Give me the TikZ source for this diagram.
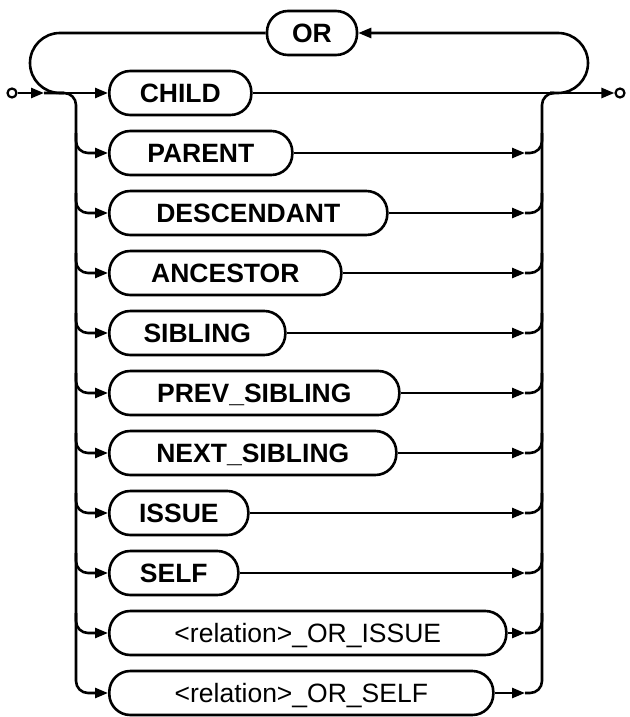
\documentclass[tikz,border=0pt]{standalone}
\usepackage{fontspec}
\setmainfont{Liberation Sans}
\usetikzlibrary{arrows.meta, positioning}
\newcommand{\railfont}{\fontsize{26.5}{30}\selectfont}
\tikzset{
  rail/.style={line width=2.6pt, line join=round},
  tip/.style={-{Triangle[length=13pt,width=10pt]}},
  tipstart/.style={{Triangle[length=13pt,width=10pt]}-},
  relbox/.style={draw, line width=2.6pt, rounded corners=21pt, minimum height=44pt,
    inner sep=0pt, text height=19pt, text depth=0pt, anchor=west, font=\railfont\bfseries},
  endpoint/.style={draw, circle, line width=2.2pt, minimum size=9pt, inner sep=0pt}
}

\begin{document}
\begin{tikzpicture}[x=1pt,y=-1pt]
  \useasboundingbox (0,0) rectangle (629,717);

  % Rail points
  \coordinate (split) at (44,93);
  \coordinate (lmerge) at (64,93);
  \coordinate (lrail) at (76,93);
  \coordinate (lloop) at (30,33);
  \coordinate (rtip) at (525,93);
  \coordinate (rrail) at (542,93);
  \coordinate (rmerge) at (550,93);
  \coordinate (rloop) at (588,33);

  % OR box on top
  \node[relbox, minimum width=90pt, anchor=center] (orbox) at (312,33) {OR};

  % Relation boxes
  \node[relbox, minimum width=142pt] (child) at (108,93) {CHILD};
  \node[relbox, minimum width=183pt] (parent) at (108,153) {PARENT};
  \node[relbox, minimum width=278pt] (descendant) at (108,213) {DESCENDANT};
  \node[relbox, minimum width=232pt] (ancestor) at (108,273) {ANCESTOR};
  \node[relbox, minimum width=176pt] (sibling) at (108,333) {SIBLING};
  \node[relbox, minimum width=290pt] (prevsib) at (108,393) {PREV\_SIBLING};
  \node[relbox, minimum width=287pt] (nextsib) at (108,453) {NEXT\_SIBLING};
  \node[relbox, minimum width=139pt] (issue) at (108,513) {ISSUE};
  \node[relbox, minimum width=129pt] (self) at (108,573) {SELF};
  \node[relbox, minimum width=397pt, font=\railfont] (orissue) at (108,633) {<relation>\_OR\_ISSUE};
  \node[relbox, minimum width=384pt, font=\railfont] (orself) at (108,693) {<relation>\_OR\_SELF};

  % Start and end
  \node[endpoint] (start) at (12,93) {};
  \node[endpoint] (stop) at (620,93) {};

  % Main line
  \draw[rail, tip] (start) -- (split);
  \draw[rail, tip] (split) -- (child);
  \draw[rail, tip] (child) -- (stop);

  % OR loop
  \draw[rail, rounded corners=30pt] (orbox.west) -- (lloop) -- (lloop |- child) -- (lmerge);
  \draw[rail, tip, rounded corners=30pt] (rmerge) -- (rloop |- child) -- (rloop) -- (orbox.east);

  % Left rail
  \draw[rail, tip, rounded corners=12pt] (split) -- (lrail) -- (lrail |- orself) -- (orself.west);
  \draw[rail, tipstart, rounded corners=12pt] (parent.west) -- (lrail |- parent) -- ++(0,-20);
  \draw[rail, tipstart, rounded corners=12pt] (descendant.west) -- (lrail |- descendant) -- ++(0,-20);
  \draw[rail, tipstart, rounded corners=12pt] (ancestor.west) -- (lrail |- ancestor) -- ++(0,-20);
  \draw[rail, tipstart, rounded corners=12pt] (sibling.west) -- (lrail |- sibling) -- ++(0,-20);
  \draw[rail, tipstart, rounded corners=12pt] (prevsib.west) -- (lrail |- prevsib) -- ++(0,-20);
  \draw[rail, tipstart, rounded corners=12pt] (nextsib.west) -- (lrail |- nextsib) -- ++(0,-20);
  \draw[rail, tipstart, rounded corners=12pt] (issue.west) -- (lrail |- issue) -- ++(0,-20);
  \draw[rail, tipstart, rounded corners=12pt] (self.west) -- (lrail |- self) -- ++(0,-20);
  \draw[rail, tipstart, rounded corners=12pt] (orissue.west) -- (lrail |- orissue) -- ++(0,-20);

  % Right rail
  \draw[rail, tip] (orself.east) -- (rtip |- orself);
  \draw[rail, rounded corners=12pt] (rtip |- orself) -- (rrail |- orself) -- (rrail) -- (rmerge);
  \draw[rail, tip] (parent.east) -- (rtip |- parent);
  \draw[rail, rounded corners=12pt] (rtip |- parent) -- (rrail |- parent) -- ++(0,-20);
  \draw[rail, tip] (descendant.east) -- (rtip |- descendant);
  \draw[rail, rounded corners=12pt] (rtip |- descendant) -- (rrail |- descendant) -- ++(0,-20);
  \draw[rail, tip] (ancestor.east) -- (rtip |- ancestor);
  \draw[rail, rounded corners=12pt] (rtip |- ancestor) -- (rrail |- ancestor) -- ++(0,-20);
  \draw[rail, tip] (sibling.east) -- (rtip |- sibling);
  \draw[rail, rounded corners=12pt] (rtip |- sibling) -- (rrail |- sibling) -- ++(0,-20);
  \draw[rail, tip] (prevsib.east) -- (rtip |- prevsib);
  \draw[rail, rounded corners=12pt] (rtip |- prevsib) -- (rrail |- prevsib) -- ++(0,-20);
  \draw[rail, tip] (nextsib.east) -- (rtip |- nextsib);
  \draw[rail, rounded corners=12pt] (rtip |- nextsib) -- (rrail |- nextsib) -- ++(0,-20);
  \draw[rail, tip] (issue.east) -- (rtip |- issue);
  \draw[rail, rounded corners=12pt] (rtip |- issue) -- (rrail |- issue) -- ++(0,-20);
  \draw[rail, tip] (self.east) -- (rtip |- self);
  \draw[rail, rounded corners=12pt] (rtip |- self) -- (rrail |- self) -- ++(0,-20);
  \draw[rail, tip] (orissue.east) -- (rtip |- orissue);
  \draw[rail, rounded corners=12pt] (rtip |- orissue) -- (rrail |- orissue) -- ++(0,-20);
\end{tikzpicture}
\end{document}
